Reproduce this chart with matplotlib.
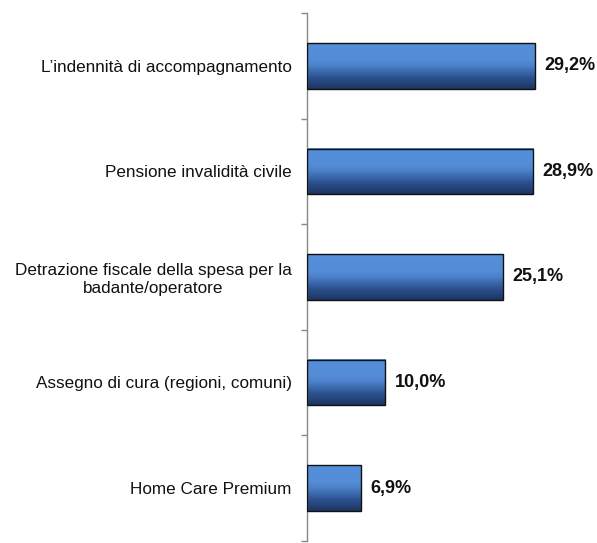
import numpy as np
import matplotlib
matplotlib.use("Agg")
import matplotlib.pyplot as plt
from matplotlib.colors import LinearSegmentedColormap

categories = [
    "L\u2019indennità di accompagnamento",
    "Pensione invalidità civile",
    "Detrazione fiscale della spesa per la\nbadante/operatore",
    "Assegno di cura (regioni, comuni)",
    "Home Care Premium",
]
values = [29.2, 28.9, 25.1, 10.0, 6.9]
value_labels = ["29,2%", "28,9%", "25,1%", "10,0%", "6,9%"]

plt.rcParams['font.family'] = ['Liberation Sans', 'DejaVu Sans']

fig = plt.figure(figsize=(5.97, 5.43), dpi=100)
ax = fig.add_axes([0.514, 0.004, 0.459, 0.972])

n = len(categories)
ypos = np.arange(n)[::-1]
h = 0.43

cmap = LinearSegmentedColormap.from_list(
    "g", [(0.0, "#1c3560"), (0.25, "#2c5190"), (0.5, "#4a80c8"), (0.62, "#548cd6"), (1.0, "#5590da")])
grad = np.linspace(0, 1, 256).reshape(-1, 1)

for y, v in zip(ypos, values):
    ax.imshow(grad, cmap=cmap, aspect='auto', origin='lower',
              extent=[0, v, y - h / 2, y + h / 2], zorder=2, interpolation='bilinear')
    ax.add_patch(plt.Rectangle((0, y - h / 2), v, h, fill=False,
                               edgecolor='#111111', linewidth=1.0, zorder=3))

for y, v, lab in zip(ypos, values, value_labels):
    ax.text(v + 1.2, y, lab, va='center', ha='left', fontsize=13,
            fontweight='bold', color='#111111')

ax.set_xlim(0, 35)
ax.set_ylim(-0.5, n - 0.5)
ax.set_yticks(ypos)
ax.set_yticklabels(categories, fontsize=12.3, color='#111111', ha='right', multialignment='center')
ax.tick_params(axis='y', which='major', length=0, pad=10.8)
ax.set_yticks(np.arange(-0.5, n, 1.0), minor=True)
ax.tick_params(axis='y', which='minor', length=4, color='#888888', width=1)
ax.set_xticks([])
for s in ['top', 'right', 'bottom']:
    ax.spines[s].set_visible(False)
ax.spines['left'].set_color('#888888')
ax.spines['left'].set_linewidth(1)

fig.savefig("out.png", dpi=100)
